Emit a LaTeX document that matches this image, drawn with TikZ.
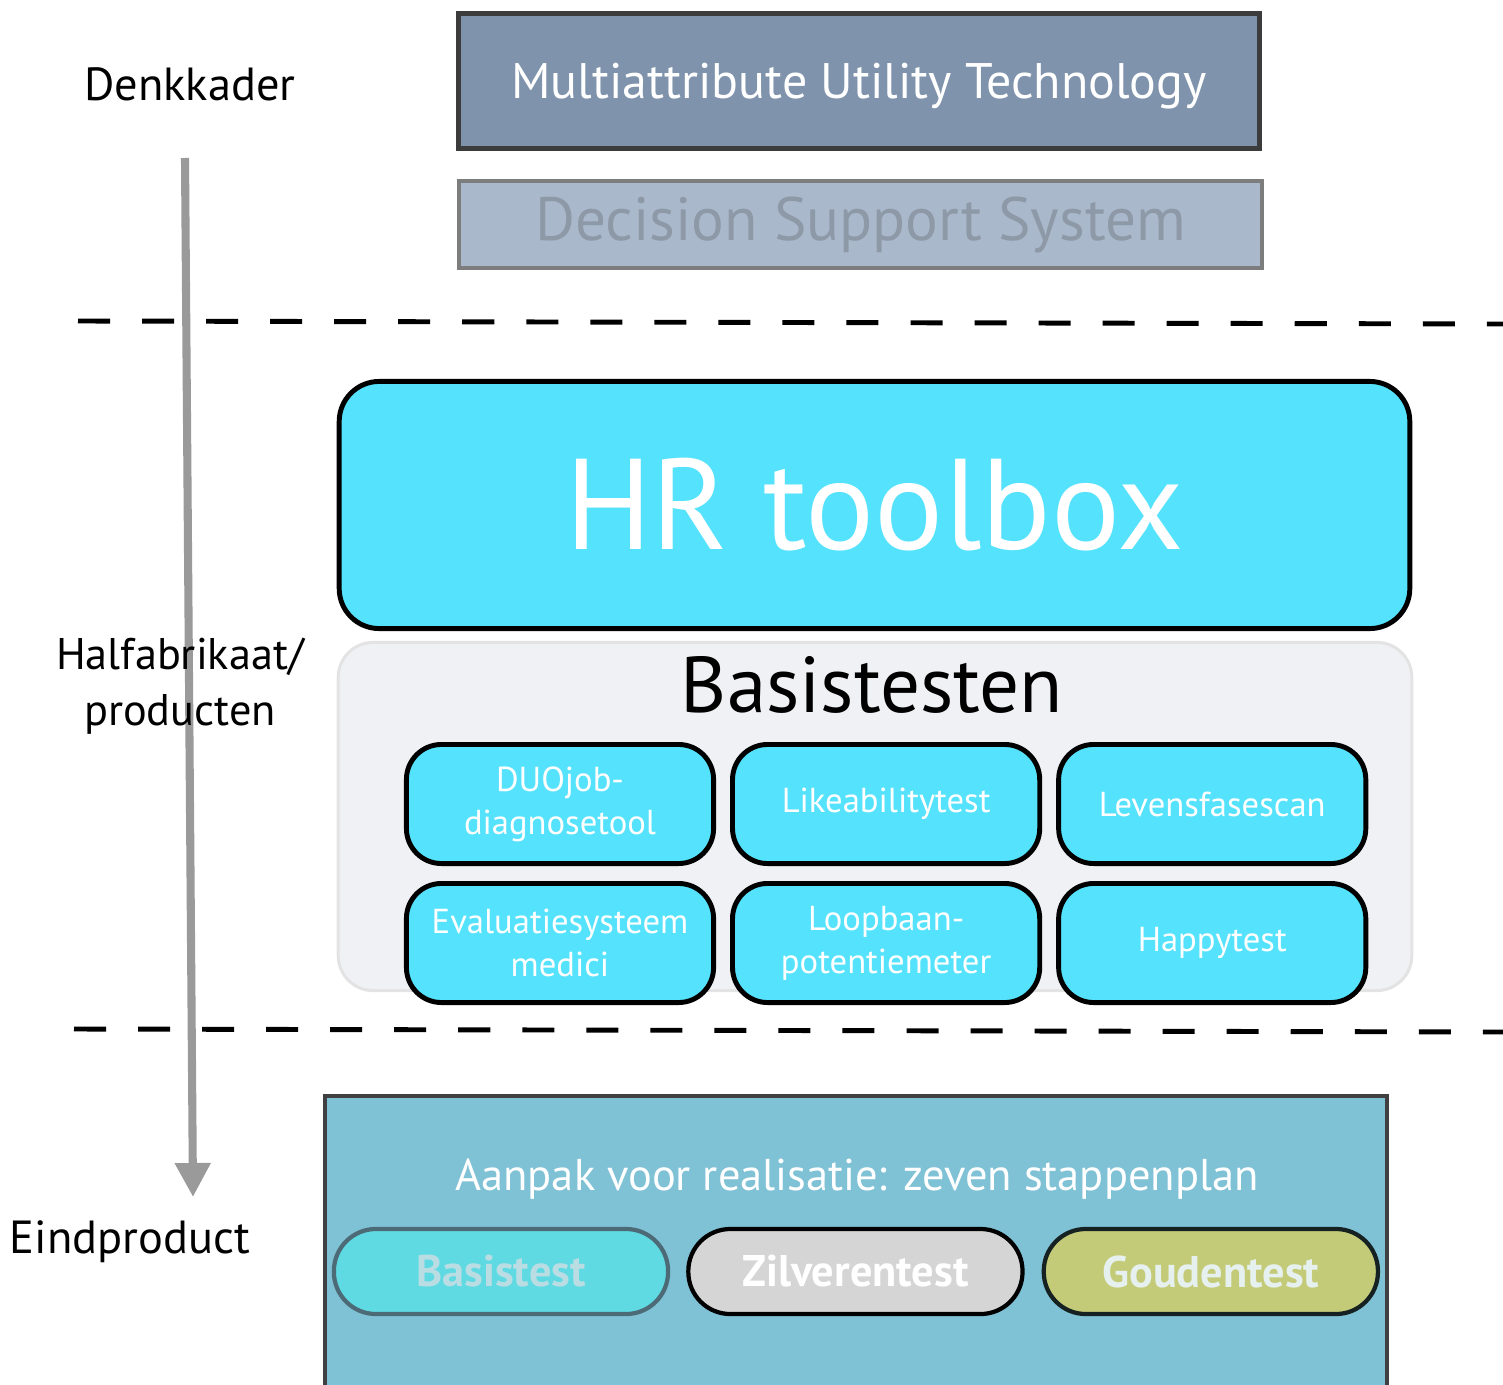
\documentclass[tikz,border=0pt]{standalone}
\usepackage{fontspec}
\setmainfont{PT Sans}
\usetikzlibrary{positioning,arrows.meta}
\definecolor{mutblue}{HTML}{7F93AC}
\definecolor{mutline}{HTML}{3C3C3C}
\definecolor{dssblue}{HTML}{A9B9CB}
\definecolor{dssline}{HTML}{7D7D7D}
\definecolor{dsstext}{HTML}{8E99A8}
\definecolor{toolcyan}{HTML}{55E2FC}
\definecolor{panelfill}{HTML}{F0F1F4}
\definecolor{panelline}{HTML}{E3E3E3}
\definecolor{planblue}{HTML}{7FC1D5}
\definecolor{planline}{HTML}{404040}
\definecolor{basisfill}{HTML}{5FDAE2}
\definecolor{basisline}{HTML}{4C6B77}
\definecolor{basistext}{HTML}{B9DDE3}
\definecolor{zilverfill}{HTML}{D5D5D5}
\definecolor{goudfill}{HTML}{C4CB78}
\definecolor{goudline}{HTML}{162222}
\definecolor{goudtext}{HTML}{E6F1EF}
\definecolor{arrowgray}{HTML}{9A9A9A}

\begin{document}
\begin{tikzpicture}
[x=0.01cm,y=-0.01cm,
 sidelabel/.style={font=\fontsize{13.2}{15.8}\selectfont,align=center},
 dashline/.style={line width=1.4pt,dash pattern=on 0.32cm off 0.32cm},
 tbox/.style={draw=black,line width=1.4pt,fill=toolcyan,rounded corners=0.35cm,
   minimum width=3.07cm,minimum height=1.19cm,inner sep=0pt,text=white,
   align=center,font=\fontsize{9.85}{12.2}\selectfont},
 pill/.style={line width=1.2pt,rounded corners=0.42cm,minimum width=3.34cm,
   minimum height=0.85cm,inner sep=0pt,font=\bfseries\fontsize{12.6}{14}\selectfont}]
\useasboundingbox (0,0) rectangle (1503,1385);

\coordinate (top) at (185,158);
\coordinate (bottom) at (193,1197);
\draw[arrowgray,line width=2.3pt,-{Triangle[length=0.34cm,width=0.34cm]}] (top) -- (bottom);

\coordinate (d1a) at (78,321);
\coordinate (d1b) at (1503,324);
\coordinate (d2a) at (74,1029);
\coordinate (d2b) at (1503,1032);
\draw[dashline] (d1a) -- (d1b);
\draw[dashline] (d2a) -- (d2b);

\node[sidelabel](denk) at (190,84){Denkkader};
\node[sidelabel,font=\fontsize{12.6}{15.8}\selectfont](half) at (180,686){Halfabrikaat/\\producten};
\node[sidelabel](eind) at (130,1242){Eindproduct};

\node[draw=mutline,line width=1.4pt,fill=mutblue,minimum width=8cm,minimum height=1.35cm,
  text=white,text depth=0pt,font=\fontsize{14.2}{16}\selectfont](mut) at (859,81){Multiattribute Utility Technology};
\node[draw=dssline,line width=1.1pt,fill=dssblue,minimum width=8.03cm,minimum height=0.87cm,
  text=dsstext,font=\fontsize{17.4}{19}\selectfont](dss) at (860.5,224.5){Decision Support System};

\node[draw=black,line width=1.4pt,fill=toolcyan,rounded corners=0.4cm,minimum width=10.7cm,
  minimum height=2.47cm,text=white,font=\fontsize{36.7}{38}\selectfont](hr) at (874.5,505){HR toolbox};
\node[draw=panelline,line width=0.85pt,fill=panelfill,rounded corners=0.35cm,minimum width=10.73cm,
  minimum height=3.48cm](panel) at (875,816.5){};
\node[font=\fontsize{22.5}{24}\selectfont](basis) at (872,685){Basistesten};

\node[tbox](duo) at (560,804){DUOjob-\\diagnosetool};
\node[tbox,right=0.14cm of duo](like){Likeabilitytest};
\node[tbox,right=0.14cm of like](leven){Levensfasescan};
\node[tbox,below=0.15cm of duo](eval){Evaluatiesysteem\\medici};
\node[tbox,below=0.15cm of like](loop){Loopbaan-\\potentiemeter};
\node[tbox,below=0.15cm of leven](happy){Happytest};

\node[draw=planline,line width=1.1pt,fill=planblue,minimum width=10.62cm,minimum height=3.08cm](plan) at (856,1250){};
\node[text=white,font=\fontsize{12.65}{14}\selectfont](aanpak) at (857,1179){Aanpak voor realisatie: zeven stappenplan};

\node[pill,draw=basisline,fill=basisfill,text=basistext](bt) at (501,1271.5){Basistest};
\node[pill,draw=black,fill=zilverfill,text=white,right=0.16cm of bt](zt){Zilverentest};
\node[pill,draw=goudline,fill=goudfill,text=goudtext,right=0.17cm of zt](gt){Goudentest};
\end{tikzpicture}
\end{document}
